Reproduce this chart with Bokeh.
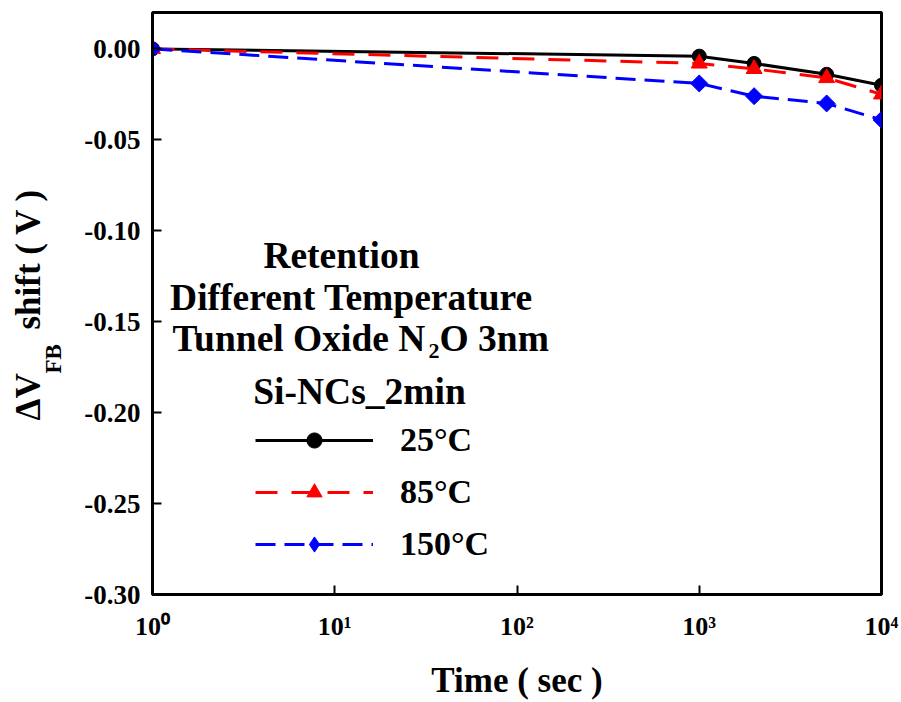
import math
from bokeh.plotting import figure
from bokeh.models import FixedTicker, PrintfTickFormatter, Label, Legend, LegendItem, Title
from bokeh.embed import file_html
from bokeh.resources import INLINE

# ---------------- data ----------------
time_sec = [1, 1000, 2000, 5000, 10000]
shift_25 = [0.0, -0.004, -0.008, -0.014, -0.020]
shift_85 = [0.0, -0.008, -0.011, -0.016, -0.025]
shift_150 = [0.0, -0.019, -0.026, -0.030, -0.039]

series_names = ["25°C", "85°C", "150°C"]

x_tick_vals = [1, 10, 100, 1000, 10000]
x_tick_labels = ["10⁰", "10¹", "10²", "10³", "10⁴"]
y_tick_vals = [0.0, -0.05, -0.10, -0.15, -0.20, -0.25, -0.30]

FONT = "Liberation Serif"

p = figure(width=901, height=702, x_axis_type="log",
           x_range=(1, 10000), y_range=(-0.30, 0.02),
           output_backend="svg", toolbar_location=None,
           min_border_left=152, min_border_right=20,
           min_border_top=12, min_border_bottom=108)

p.grid.visible = False
p.outline_line_color = "black"
p.outline_line_width = 3
p.outline_line_alpha = 1.0
p.background_fill_color = "white"
p.border_fill_color = "white"

# axes
for ax in (p.xaxis[0], p.yaxis[0]):
    ax.axis_line_width = 3
    ax.axis_line_color = "black"
    ax.major_tick_in = 9
    ax.major_tick_out = 0
    ax.major_tick_line_width = 2
    ax.minor_tick_in = 0
    ax.minor_tick_out = 0
    ax.minor_tick_line_color = None
    ax.major_label_text_font = FONT
    ax.major_label_text_font_style = "bold"
    ax.major_label_text_color = "black"

p.xaxis.major_label_text_font_size = "26px"
p.yaxis.major_label_text_font_size = "27px"

p.xaxis.ticker = FixedTicker(ticks=x_tick_vals, minor_ticks=[])
p.xaxis.major_label_overrides = dict(zip(x_tick_vals, x_tick_labels))
p.xaxis.major_label_standoff = 17
p.xaxis.axis_label = "Time ( sec )"
p.xaxis.axis_label_text_font = FONT
p.xaxis.axis_label_text_font_style = "bold"
p.xaxis.axis_label_text_font_size = "35px"
p.xaxis.axis_label_text_color = "black"
p.xaxis.axis_label_standoff = 17

p.yaxis.ticker = FixedTicker(ticks=y_tick_vals, minor_ticks=[])
p.yaxis.formatter = PrintfTickFormatter(format="%.2f")
p.yaxis.major_label_standoff = 12

# data series
r1l = p.line(time_sec, shift_25, line_color="black", line_width=3)
r1s = p.scatter(time_sec, shift_25, marker="circle", size=14, fill_color="black", line_color="black")
r2l = p.line(time_sec, shift_85, line_color="#ff0000", line_width=3, line_dash="22 14")
r2s = p.scatter(time_sec, shift_85, marker="triangle", size=16, fill_color="#ff0000", line_color="#ff0000")
r3l = p.line(time_sec, shift_150, line_color="#0000ff", line_width=3, line_dash="20 9")
r3s = p.scatter(time_sec, shift_150, marker="square", size=12, angle=math.pi / 4,
                fill_color="#0000ff", line_color="#0000ff")
# same series drawn as a diamond symbol, used only for the legend entry
r3k = p.scatter(time_sec, shift_150, marker="diamond", size=18,
                fill_color="#0000ff", line_color="#0000ff", visible=False)

legend = Legend(items=[
    LegendItem(label=series_names[0], renderers=[r1l, r1s]),
    LegendItem(label=series_names[1], renderers=[r2l, r2s]),
    LegendItem(label=series_names[2], renderers=[r3l, r3k]),
], location=(103, 30))
legend.padding = 0
legend.margin = 0
legend.spacing = 12
legend.glyph_width = 118
legend.glyph_height = 38
legend.label_height = 40
legend.label_standoff = 27
legend.label_text_font = FONT
legend.label_text_font_style = "bold"
legend.label_text_font_size = "34px"
legend.label_text_baseline = "hanging"
legend.label_text_color = "black"
legend.background_fill_alpha = 0
legend.border_line_alpha = 0
legend.click_policy = "none"
legend.inactive_fill_alpha = 0
p.add_layout(legend, "center")

def lab(text, x, y, size, align="left"):
    p.add_layout(Label(x=x, y=y, x_units="screen", y_units="screen", text=text,
                       text_align=align, text_baseline="alphabetic",
                       text_font=FONT, text_font_style="bold",
                       text_font_size=size, text_color="black"))

# annotation block
lab("Retention", 189, 339, "37.5px", align="center")
lab("Different Temperature", 199, 297, "37.5px", align="center")
lab("Tunnel Oxide N", 20, 256, "37.5px")
lab("2", 276, 244, "22px")
lab("O 3nm", 287, 256, "37.5px")
lab("Si-NCs_2min", 207, 203, "37.5px", align="center")

# y-axis title with subscript (titles in the left panel)
t_sub = Title(text="FB", align="left", offset=221, standoff=32,
              text_font=FONT, text_font_style="bold", text_font_size="23px",
              text_color="black")
t_main = Title(text="ΔV\u00a0\u00a0\u00a0\u00a0\u00a0shift ( V )", align="left", offset=174, standoff=-50,
               text_font=FONT, text_font_style="bold", text_font_size="35px",
               text_color="black")
p.add_layout(t_sub, "left")
p.add_layout(t_main, "left")

open("out.html", "w").write(file_html(p, INLINE))
